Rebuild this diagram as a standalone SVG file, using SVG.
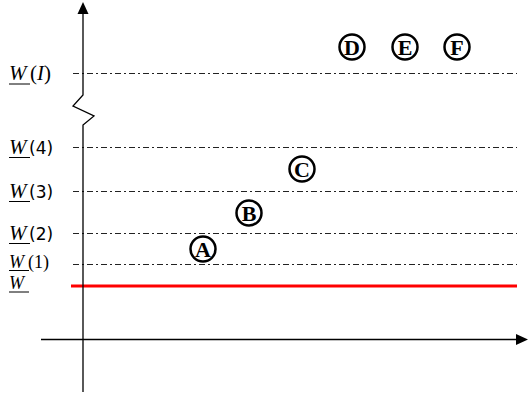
<svg xmlns="http://www.w3.org/2000/svg" width="528" height="397" viewBox="0 0 528 397">
<style>
.ax{stroke:#000;stroke-width:1.3;fill:none}
.dl{stroke:#222;stroke-width:1;stroke-dasharray:6,3,2,3;fill:none}
.lw{font-family:"Liberation Serif",serif;font-style:italic;font-size:21px}
.ls{font-family:"Liberation Serif",serif;font-size:21px}
.lp{font-family:"DejaVu Sans",sans-serif;font-size:17px}
.sm{font-size:18px}
.ul{stroke:#000;stroke-width:1}
.cc{fill:none;stroke:#000;stroke-width:2.5}
.ct{font-family:"Liberation Serif",serif;font-weight:bold;font-size:22px;text-anchor:middle}
</style>
<rect width="528" height="397" fill="#fff"/>
<g id="levels">
<line class="dl" x1="73" y1="73.5" x2="517" y2="73.5"/>
<line class="dl" x1="73" y1="147.5" x2="517" y2="147.5"/>
<line class="dl" x1="73" y1="191.5" x2="517" y2="191.5"/>
<line class="dl" x1="73" y1="233.5" x2="517" y2="233.5"/>
<line class="dl" x1="73" y1="264.5" x2="517" y2="264.5"/>
<line x1="71" y1="286" x2="517" y2="286" stroke="#f00" stroke-width="3"/>
</g>
<g id="axes">
<path class="ax" d="M83,12 V95 L73,106 L94,116 L83,125 V392"/>
<path d="M83,2 L77.5,14 H88.5 Z" fill="#000"/>
<line class="ax" x1="41" y1="339.5" x2="518" y2="339.5"/>
<path d="M528,339.5 L516,334 V345 Z" fill="#000"/>
</g>
<g id="labels">
<text x="9" y="80"><tspan class="lw">W</tspan><tspan class="ls" x="30">(</tspan><tspan class="lw">I</tspan><tspan class="ls">)</tspan></text>
<line class="ul" x1="9" y1="84" x2="30" y2="84"/>
<text x="9" y="154"><tspan class="lw">W</tspan><tspan class="lp" x="29">(4)</tspan></text>
<line class="ul" x1="9" y1="157.5" x2="30" y2="157.5"/>
<text x="9" y="198"><tspan class="lw">W</tspan><tspan class="lp" x="29">(3)</tspan></text>
<line class="ul" x1="9" y1="201.5" x2="30" y2="201.5"/>
<text x="9" y="240"><tspan class="lw">W</tspan><tspan class="lp" x="29">(2)</tspan></text>
<line class="ul" x1="9" y1="243.5" x2="30" y2="243.5"/>
<text x="9" y="268"><tspan class="lw sm">W</tspan><tspan class="ls sm" x="28">(1)</tspan></text>
<line class="ul" x1="9" y1="270.5" x2="29" y2="270.5"/>
<text x="9" y="289" class="lw sm">W</text>
<line class="ul" x1="9" y1="292" x2="29" y2="292"/>
</g>
<g id="A"><circle class="cc" cx="203" cy="249" r="12.5"/><text class="ct" x="203" y="256.5">A</text></g>
<g id="B"><circle class="cc" cx="249" cy="213" r="12.5"/><text class="ct" x="249" y="220.5">B</text></g>
<g id="C"><circle class="cc" cx="302" cy="169" r="12.5"/><text class="ct" x="302" y="176.5">C</text></g>
<g id="D"><circle class="cc" cx="352" cy="47" r="12.5"/><text class="ct" x="352" y="54.5">D</text></g>
<g id="E"><circle class="cc" cx="405" cy="47" r="12.5"/><text class="ct" x="405" y="54.5">E</text></g>
<g id="F"><circle class="cc" cx="457" cy="47" r="12.5"/><text class="ct" x="457" y="54.5">F</text></g>
</svg>
